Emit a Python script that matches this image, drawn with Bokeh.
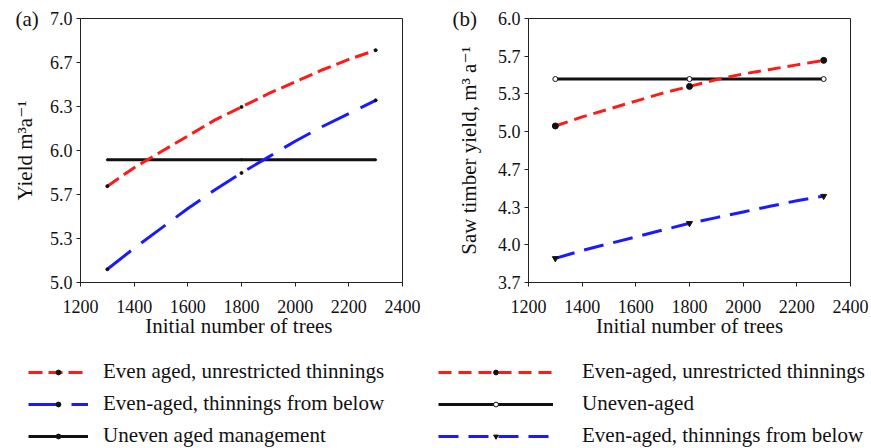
from bokeh.plotting import figure
from bokeh.layouts import column, row
from bokeh.models import (Range1d, FixedTicker, Legend, LegendItem,
                          CustomJSTickFormatter)
from bokeh.embed import file_html
from bokeh.resources import INLINE

FONT = "Liberation Serif, Times New Roman, DejaVu Serif, serif"

# ---------------- data ----------------
x_ticks = [1200, 1400, 1600, 1800, 2000, 2200, 2400]
x_curve = [1300, 1400, 1500, 1600, 1700, 1800, 1900, 2000, 2100, 2200, 2300]
x_pts = [1300, 1800, 2300]

# panel (a): total yield
a_red_curve = [5.73, 5.87, 5.99, 6.11, 6.23, 6.33, 6.43, 6.52, 6.61, 6.69, 6.76]
a_blue_curve = [5.10, 5.26, 5.41, 5.56, 5.70, 5.83, 5.95, 6.07, 6.18, 6.28, 6.38]
a_red_pts = [5.73, 6.33, 6.76]
a_blue_pts = [5.10, 5.83, 6.38]
a_black_pts = [5.93, 5.93, 5.93]
a_yticks = [5.0, 5.3333333, 5.6666667, 6.0, 6.3333333, 6.6666667, 7.0]
a_ytick_labels = ["5.0", "5.3", "5.7", "6.0", "6.3", "6.7", "7.0"]

# panel (b): saw timber yield
b_red_curve = [5.05, 5.13, 5.20, 5.27, 5.34, 5.40, 5.46, 5.51, 5.55, 5.59, 5.63]
b_blue_curve = [3.88, 3.95, 4.01, 4.07, 4.13, 4.19, 4.24, 4.29, 4.34, 4.39, 4.43]
b_red_pts = [5.05, 5.40, 5.63]
b_blue_pts = [3.88, 4.19, 4.43]
b_black_pts = [5.465, 5.465, 5.465]
b_yticks = [3.6666667, 4.0, 4.3333333, 4.6666667, 5.0, 5.3333333, 5.6666667, 6.0]
b_ytick_labels = ["3.7", "4.0", "4.3", "4.7", "5.0", "5.3", "5.7", "6.0"]

a_labels = ["Even aged, unrestricted thinnings", "Even-aged, thinnings from below",
            "Uneven aged management"]
b_labels = ["Even-aged, unrestricted thinnings", "Uneven-aged",
            "Even-aged, thinnings from below"]

RED = "#ff1a1a"
BLUE = "#1a1aff"
BLACK = "#111111"

FMT_CODE = """
let best = 0, d = Infinity;
for (let i = 0; i < tvals.length; i++) {
  const e = Math.abs(tvals[i] - tick);
  if (e < d) { d = e; best = i; }
}
return tlabels[best];
"""


def style(p, xlabel, ylabel, yticks, ylabels, ystandoff, panel, panel_offset):
    p.xgrid.visible = False
    p.ygrid.visible = False
    p.outline_line_color = "#222222"
    p.outline_line_width = 1
    p.background_fill_color = "white"
    p.border_fill_color = "white"
    p.xaxis.ticker = FixedTicker(ticks=x_ticks)
    p.yaxis.ticker = FixedTicker(ticks=yticks)
    p.yaxis.formatter = CustomJSTickFormatter(args=dict(tvals=yticks, tlabels=ylabels),
                                              code=FMT_CODE)
    for ax in p.axis:
        ax.axis_line_color = "#222222"
        ax.major_tick_line_color = "#222222"
        ax.major_tick_out = 4
        ax.major_tick_in = 0
        ax.minor_tick_line_color = None
        ax.major_label_text_font = FONT
        ax.major_label_text_font_size = "18px"
        ax.major_label_text_color = "#111111"
        ax.axis_label_text_font = FONT
        ax.axis_label_text_font_size = "21px"
        ax.axis_label_text_font_style = "normal"
        ax.axis_label_text_color = "#111111"
    p.xaxis.axis_label = xlabel
    p.yaxis.axis_label = ylabel
    p.xaxis.major_label_standoff = 13
    p.xaxis.axis_label_standoff = -2
    p.yaxis.major_label_standoff = 4
    p.yaxis.axis_label_standoff = ystandoff
    # panel letter "(a)" / "(b)" drawn as the plot title, pulled left of the frame
    p.title.text = panel
    p.title.align = "left"
    p.title.offset = panel_offset
    p.title.standoff = -24
    p.title.vertical_align = "bottom"
    p.title.text_font = FONT
    p.title.text_font_size = "21px"
    p.title.text_font_style = "normal"
    p.title.text_color = "#111111"


# ---------------- panel (a) ----------------
p1 = figure(width=440, height=345, x_range=Range1d(1200, 2400), y_range=Range1d(5.0, 7.0),
            toolbar_location=None, output_backend="svg",
            min_border_left=80, min_border_right=38, min_border_top=18, min_border_bottom=63)
style(p1, "Initial number of  trees", "Yield m³a⁻¹", a_yticks, a_ytick_labels, 10, "(a)", -65)
p1.line(x_pts, a_black_pts, line_color=BLACK, line_width=3)
p1.line(x_curve, a_red_curve, line_color=RED, line_width=3, line_dash="14 6")
p1.line(x_curve, a_blue_curve, line_color=BLUE, line_width=3, line_dash="30 13")
p1.scatter(x_pts, a_red_pts, size=3, color=BLACK)
p1.scatter(x_pts, a_blue_pts, size=3, color=BLACK)
p1.scatter(x_pts, a_black_pts, size=2, color=BLACK)

# ---------------- panel (b) ----------------
p2 = figure(width=431, height=345, x_range=Range1d(1200, 2400),
            y_range=Range1d(3.6666667, 6.0),
            toolbar_location=None, output_backend="svg",
            min_border_left=88, min_border_right=21, min_border_top=18, min_border_bottom=63)
style(p2, "Initial number of trees", "Saw timber yield, m³ a⁻¹", b_yticks, b_ytick_labels,
      14, "(b)", -76)
p2.line(x_pts, b_black_pts, line_color=BLACK, line_width=3)
p2.line(x_curve, b_red_curve, line_color=RED, line_width=3, line_dash="13 7")
p2.line(x_curve, b_blue_curve, line_color=BLUE, line_width=3, line_dash="20 10")
p2.scatter(x_pts, b_red_pts, size=6, color=BLACK)
p2.scatter(x_pts, b_black_pts, size=5, fill_color="white", line_color=BLACK, line_width=1)
p2.scatter(x_pts, b_blue_pts, size=6, marker="inverted_triangle", color=BLACK)


# ---------------- legends (strip below each panel) ----------------
def legend_fig(width):
    f = figure(width=width, height=103, x_range=Range1d(0, 1), y_range=Range1d(0, 1),
               toolbar_location=None, output_backend="svg", min_border=0)
    f.axis.visible = False
    f.xgrid.visible = False
    f.ygrid.visible = False
    f.outline_line_color = None
    return f


def make_legend(f, items, x, glyph_width, standoff):
    lg = Legend(items=items, location=(x, 0), orientation="vertical",
                glyph_width=glyph_width, glyph_height=12, label_height=25,
                spacing=7, padding=0, margin=0, label_standoff=standoff,
                border_line_color=None, background_fill_alpha=0,
                label_text_font=FONT, label_text_font_size="21px",
                label_text_color="#111111")
    f.add_layout(lg)


l1 = legend_fig(430)
r1 = l1.line(x_curve, a_red_curve, line_color=RED, line_width=3, line_dash="14 6")
m1 = l1.scatter(x_pts, a_red_pts, size=3, color=BLACK)
r2 = l1.line(x_curve, a_blue_curve, line_color=BLUE, line_width=3, line_dash="30 13")
m2 = l1.scatter(x_pts, a_blue_pts, size=3, color=BLACK)
r3 = l1.line(x_pts, a_black_pts, line_color=BLACK, line_width=3)
m3 = l1.scatter(x_pts, a_black_pts, size=2, color=BLACK)
make_legend(l1, [LegendItem(label=a_labels[0], renderers=[r1, m1]),
                 LegendItem(label=a_labels[1], renderers=[r2, m2]),
                 LegendItem(label=a_labels[2], renderers=[r3, m3])],
            28, 60, 15)

l2 = legend_fig(441)
s1 = l2.line(x_curve, b_red_curve, line_color=RED, line_width=3, line_dash="13 7")
n1 = l2.scatter(x_pts, b_red_pts, size=6, color=BLACK)
s2 = l2.line(x_pts, b_black_pts, line_color=BLACK, line_width=3)
n2 = l2.scatter(x_pts, b_black_pts, size=5, fill_color="white", line_color=BLACK)
s3 = l2.line(x_curve, b_blue_curve, line_color=BLUE, line_width=3, line_dash="20 10")
n3 = l2.scatter(x_pts, b_blue_pts, size=6, marker="inverted_triangle", color=BLACK)
make_legend(l2, [LegendItem(label=b_labels[0], renderers=[s1, n1]),
                 LegendItem(label=b_labels[1], renderers=[s2, n2]),
                 LegendItem(label=b_labels[2], renderers=[s3, n3])],
            8, 115, 29)

layout = column(row(p1, p2), row(l1, l2))

open("out.html", "w").write(file_html(layout, INLINE))
